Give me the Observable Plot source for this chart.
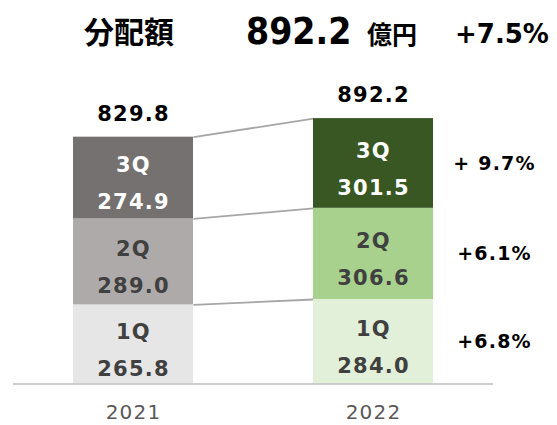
<!DOCTYPE html>
<html>
<head>
<meta charset="utf-8">
<script src="https://cdn.jsdelivr.net/npm/d3@7"></script>
<script src="https://cdn.jsdelivr.net/npm/@observablehq/plot@0.6"></script>
<style>
  html, body { margin: 0; padding: 0; background: #fff; }
  #wrap { width: 557px; height: 425px; position: relative; overflow: hidden; }
  #title { position: relative; width: 557px; height: 70px; }
  #title span { position: absolute; line-height: 1; white-space: nowrap; color: #000; font-weight: bold; }
  .cjk { font-family: "Noto Sans CJK JP", "Noto Sans", sans-serif; }
  .num { font-family: "DejaVu Sans Condensed", "DejaVu Sans", sans-serif; }
  .pct { font-family: "DejaVu Sans", sans-serif; }
</style>
</head>
<body>
<div id="wrap">
  <div id="title"></div>
  <div id="chart"></div>
</div>
<script>
// ---- data ----
const years = [2021, 2022];
const quarters = ["1Q", "2Q", "3Q"];
const values2021 = [265.8, 289.0, 274.9];
const values2022 = [284.0, 306.6, 301.5];
const totals = [829.8, 892.2];
const growthLabels = ["+6.8%", "+6.1%", "+ 9.7%"];
const colors2021 = ["#E7E6E6", "#AEAAAA", "#767171"];
const colors2022 = ["#E2F0D9", "#A9D18E", "#385723"];
const labelColors = ["#404040", "#404040", "#FFFFFF"];
const titleLabel = "分配額";
const titleValue = "892.2";
const titleUnit = "億円";
const titleGrowth = "+7.5%";

// ---- title ----
const title = document.getElementById("title");
function addSpan(text, cls, left, top, size) {
  const s = document.createElement("span");
  s.className = cls;
  s.textContent = text;
  s.style.left = left + "px";
  s.style.top = top + "px";
  s.style.fontSize = size + "px";
  title.appendChild(s);
}
addSpan(titleLabel, "cjk", 84, 15, 30);
addSpan(titleValue, "num", 246, 13, 37);
addSpan(titleUnit, "cjk", 367, 21, 25);
addSpan(titleGrowth, "pct", 455, 21, 26);

// ---- table ----
const series = [values2021, values2022];
const palettes = [colors2021, colors2022];
const rows = [];
years.forEach((year, yi) => {
  let acc = 0;
  quarters.forEach((q, qi) => {
    const v = series[yi][qi];
    rows.push({year, q, value: v, y1: acc, y2: acc + v, color: palettes[yi][qi], textColor: labelColors[qi],
      label: q + "\n" + v.toFixed(1)});
    acc += v;
  });
});
const r2021 = rows.filter(d => d.year === 2021);
const r2022 = rows.filter(d => d.year === 2022);
const halfBar = 0.25;
const links = quarters.map((q, i) => ({x1: 2021 + halfBar, y1: r2021[i].y2, x2: 2022 - halfBar, y2: r2022[i].y2}));
const growth = r2022.map((d, i) => ({year: d.year, mid: (d.y1 + d.y2) / 2, label: growthLabels[i]}));
const totalRows = years.map((year, i) => ({year, total: totals[i], label: totals[i].toFixed(1)}));

const chart = Plot.plot({
  width: 557,
  height: 355,
  marginLeft: 13,
  marginRight: 64,
  marginTop: 16,
  marginBottom: 41.5,
  style: {fontFamily: "DejaVu Sans, sans-serif", letterSpacing: "1.2px", background: "transparent", overflow: "visible"},
  x: {domain: [2020.5, 2022.5], axis: null},
  y: {domain: [0, 1000], axis: null},
  color: {type: "identity"},
  marks: [
    Plot.link(links, {x1: "x1", y1: "y1", x2: "x2", y2: "y2", stroke: "#A6A6A6", strokeWidth: 1.8}),
    Plot.rectY(rows, {x1: d => d.year - halfBar, x2: d => d.year + halfBar, y1: "y1", y2: "y2", fill: "color"}),
    Plot.text(rows, {x: "year", y: d => (d.y1 + d.y2) / 2, text: "label", fill: "textColor",
      fontSize: 21, fontWeight: "bold", lineHeight: 1.75, dy: 1}),
    Plot.text(totalRows, {x: "year", y: "total", text: "label", fill: "#000", fontSize: 21, fontWeight: "bold", dy: -23}),
    Plot.text(growth, {x: "year", y: "mid", text: "label", fill: "#000", fontSize: 19, fontWeight: "bold", dx: 121}),
    Plot.ruleY([0], {stroke: "#BFBFBF", strokeWidth: 1.5}),
    Plot.axisX({ticks: years, tickFormat: d => String(d), tickSize: 0, tickPadding: 21, fontSize: 20,
      color: "#595959", label: null})
  ]
});
document.getElementById("chart").appendChild(chart);
</script>
</body>
</html>
